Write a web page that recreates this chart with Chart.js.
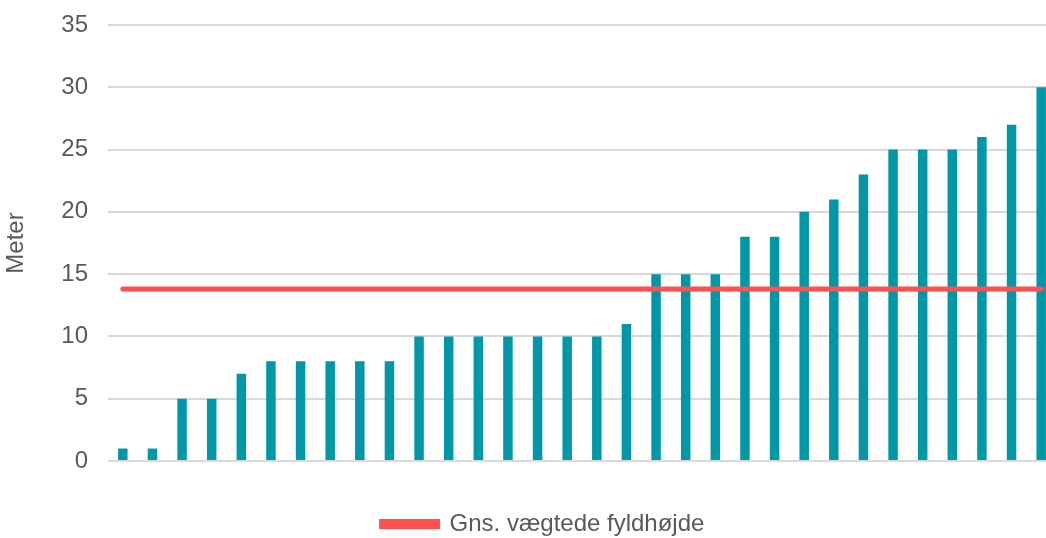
<!DOCTYPE html>
<html>
<head>
<meta charset="utf-8">
<script src="https://cdn.jsdelivr.net/npm/chart.js@4"></script>
<style>
  html, body { margin: 0; padding: 0; background: #fff; overflow: hidden; }
  #wrap { width: 1056px; height: 538px; }
</style>
</head>
<body>
<div id="wrap"><canvas id="heightChart"></canvas></div>
<script>
// values, one bar per site (sorted)
const categories = ['1','2','3','4','5','6','7','8','9','10','11','12','13','14','15','16',
                    '17','18','19','20','21','22','23','24','25','26','27','28','29','30','31','32'];
const heights = [1, 1, 5, 5, 7, 8, 8, 8, 8, 8, 10, 10, 10, 10, 10, 10,
                 10, 11, 15, 15, 15, 18, 18, 20, 21, 23, 25, 25, 25, 26, 27, 30];
const weightedAvg = 13.8;
const avgLine = categories.map(() => weightedAvg);
const yTicks = [0, 5, 10, 15, 20, 25, 30, 35];

const fontFamily = '"Liberation Sans", Arial, sans-serif';
Chart.defaults.font.family = fontFamily;
Chart.defaults.color = '#595959';

const ctx = document.getElementById('heightChart').getContext('2d');
new Chart(ctx, {
    type: 'bar',
    data: {
        labels: categories,
        datasets: [{
            type: 'line',
            label: 'Gns. vægtede fyldhøjde',
            data: avgLine,
            borderColor: '#ff5050',
            backgroundColor: '#ff5050',
            borderWidth: 5,
            borderCapStyle: 'round',
            pointRadius: 0,
            order: 0
        }, {
            label: 'Fyldhøjde',
            data: heights,
            backgroundColor: '#0097a7',
            barPercentage: 0.64,
            categoryPercentage: 0.5,
            order: 1
        }]
    },
    options: {
        responsive: true,
        maintainAspectRatio: false,
        animation: false,
        // left padding shifts the legend to the right like in the original
        layout: { padding: { top: 25, bottom: -8, left: 30, right: 0 } },
        scales: {
            x: {
                grid: { display: false },
                border: { display: false },
                ticks: { display: false },
                afterFit: (scale) => { scale.height = 49; }
            },
            y: {
                min: 0,
                max: 35,
                afterBuildTicks: (scale) => { scale.ticks = yTicks.map(v => ({ value: v })); },
                afterFit: (scale) => {
                    scale.width = 78;
                    scale.paddingTop = 0;
                    scale.paddingBottom = 0;
                },
                grid: { color: '#d9d9d9', lineWidth: 2, drawTicks: false },
                border: { display: false },
                ticks: { padding: 20, font: { size: 24 }, color: '#595959' },
                title: {
                    display: true,
                    text: 'Meter',
                    font: { size: 24 },
                    color: '#595959',
                    padding: { top: -28, bottom: 0 }
                }
            }
        },
        plugins: {
            tooltip: { enabled: false },
            legend: {
                position: 'bottom',
                labels: {
                    filter: (item) => item.datasetIndex === 0,
                    boxWidth: 56,
                    boxHeight: 5,
                    padding: 2,
                    font: { size: 24 },
                    color: '#595959'
                }
            }
        }
    }
});
</script>
</body>
</html>
